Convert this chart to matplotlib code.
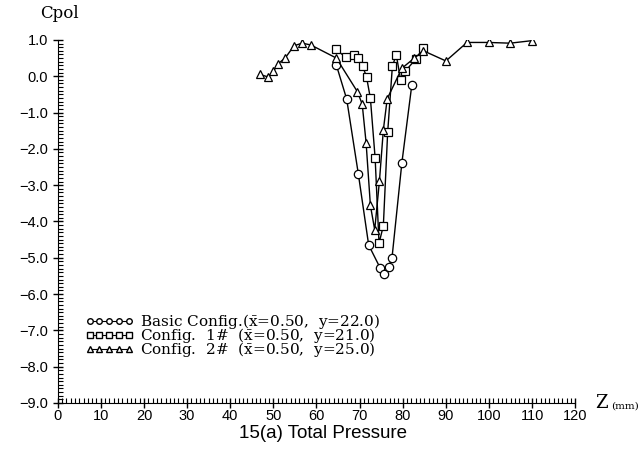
import numpy as np
import matplotlib
matplotlib.use("Agg")
import matplotlib.pyplot as plt
from matplotlib.ticker import MultipleLocator
from matplotlib.lines import Line2D

# Basic config (circles)
z_basic = [64.6, 67.0, 69.7, 72.1, 74.8, 75.6, 76.7, 77.5, 79.8, 82.1]
cp_basic = [0.31, -0.63, -2.69, -4.65, -5.29, -5.45, -5.26, -5.01, -2.38, -0.24]

# Config 1# (squares)
z_c1 = [64.5, 66.8, 68.6, 69.7, 70.7, 71.6, 72.5, 73.6, 74.5, 75.5, 76.5, 77.6,
        78.5, 79.5, 80.6, 83.0, 84.8]
cp_c1 = [0.74, 0.52, 0.59, 0.50, 0.28, -0.02, -0.61, -2.26, -4.60, -4.12, -1.55, 0.28,
         0.59, -0.10, 0.14, 0.47, 0.79]

# Config 2# (triangles)
z_c2 = [46.8, 48.8, 50.0, 51.0, 52.8, 54.8, 56.7, 58.7, 64.6, 69.5, 70.6, 71.5,
        72.5, 73.5, 74.6, 75.5, 76.4, 79.8, 82.7, 84.8, 90.0, 94.9, 99.9, 104.9, 110.0]
cp_c2 = [0.05, -0.02, 0.13, 0.33, 0.51, 0.84, 0.91, 0.86, 0.50, -0.43, -0.77, -1.83,
         -3.56, -4.23, -2.88, -1.48, -0.62, 0.22, 0.50, 0.70, 0.42, 0.93, 0.93, 0.91, 0.98]

labels = [r"Basic Config.($\bar{\rm x}$=0.50,  y=22.0)",
          r"Config.  1#  ($\bar{\rm x}$=0.50,  y=21.0)",
          r"Config.  2#  ($\bar{\rm x}$=0.50,  y=25.0)"]

plt.rcParams["mathtext.fontset"] = "dejavuserif"

fig = plt.figure(figsize=(6.43, 4.55), dpi=100)
ax = fig.add_axes([0.0897, 0.1143, 0.805, 0.798])

mk = dict(color="black", lw=1.0, mfc="white", mec="black", mew=0.9)
ax.plot(z_basic, cp_basic, marker="o", ms=6, **mk)
ax.plot(z_c1, cp_c1, marker="s", ms=5.5, **mk)
ax.plot(z_c2, cp_c2, marker="^", ms=6, **mk)

ax.set_xlim(0, 120)
ax.set_ylim(-9.0, 1.0)
ax.spines["top"].set_visible(False)
ax.spines["right"].set_visible(False)
ax.xaxis.set_major_locator(MultipleLocator(10))
ax.xaxis.set_minor_locator(MultipleLocator(1))
ax.yaxis.set_major_locator(MultipleLocator(1))
ax.yaxis.set_minor_locator(MultipleLocator(0.1))
ax.tick_params(which="major", direction="inout", length=7, width=1)
ax.tick_params(which="minor", direction="in", length=3.5, width=0.8)
ax.tick_params(axis="x", pad=1)
ax.set_yticks(np.arange(-9, 2, 1))
ax.set_yticklabels(["%.1f" % v if v >= 0 else "\u2212%.1f" % -v for v in np.arange(-9, 2, 1)])
for t in ax.get_xticklabels() + ax.get_yticklabels():
    t.set_fontfamily("Liberation Sans")
    t.set_fontsize(10.5)

handles = [Line2D([], [], color="black", lw=0.8, marker=m, ms=4, mfc="white", mec="black")
           for m in ["o", "s", "^"]]
leg = ax.legend(handles, labels, loc="upper left", bbox_to_anchor=(0.038, 0.272),
                frameon=False, numpoints=5, handlelength=3.2, handletextpad=0.4,
                labelspacing=-0.32, borderpad=0,
                prop={"family": "DejaVu Serif", "size": 11})

fig.text(0.062, 0.99, "Cpol", family="DejaVu Serif", fontsize=12, va="top")
fig.text(0.925, 0.095, "Z", family="DejaVu Serif", fontsize=13, va="bottom")
fig.text(0.951, 0.097, "(mm)", family="DejaVu Serif", fontsize=7.5, va="bottom")
fig.text(0.503, 0.048, "15(a) Total Pressure", family="Liberation Sans", fontsize=13.5,
         ha="center", va="center")

fig.savefig("out.png", dpi=100)
